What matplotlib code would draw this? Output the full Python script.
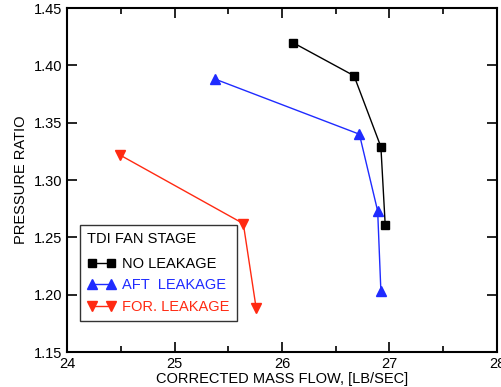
import matplotlib
matplotlib.use("Agg")
import matplotlib.pyplot as plt
from matplotlib.ticker import MultipleLocator

plt.rcParams['font.family'] = ['Liberation Sans', 'DejaVu Sans']

# mass flow [lb/sec] and pressure ratio for each configuration
no_leak_flow = [26.10, 26.67, 26.92, 26.96]
no_leak_pr = [1.420, 1.391, 1.329, 1.261]
aft_leak_flow = [25.38, 26.72, 26.89, 26.92]
aft_leak_pr = [1.388, 1.340, 1.273, 1.203]
for_leak_flow = [24.49, 25.64, 25.76]
for_leak_pr = [1.322, 1.262, 1.188]

blue = '#1f2bff'
red = '#ff2a12'

fig = plt.figure(figsize=(5.02, 3.87), dpi=100)
ax = fig.add_axes([0.1335, 0.0904, 0.8565, 0.8886])

ax.plot(no_leak_flow, no_leak_pr, color='black', lw=1, marker='s', ms=6,
        label='NO LEAKAGE')
ax.plot(aft_leak_flow, aft_leak_pr, color=blue, lw=1, marker='^', ms=7,
        label='AFT  LEAKAGE')
ax.plot(for_leak_flow, for_leak_pr, color=red, lw=1, marker='v', ms=7,
        label='FOR. LEAKAGE')

ax.set_xlim(24, 28)
ax.set_ylim(1.15, 1.45)
ax.xaxis.set_major_locator(MultipleLocator(1))
ax.xaxis.set_minor_locator(MultipleLocator(0.5))
ax.yaxis.set_major_locator(MultipleLocator(0.05))
ax.yaxis.set_major_formatter(plt.FormatStrFormatter('%.2f'))
ax.tick_params(which='both', direction='in', top=True, right=True,
               labelsize=10.5, width=1.2)
ax.tick_params(which='major', length=7)
ax.tick_params(which='minor', length=4)
for s in ax.spines.values():
    s.set_linewidth(1.5)

ax.set_xlabel('CORRECTED MASS FLOW, [LB/SEC]', fontsize=10.5, labelpad=1)
ax.set_ylabel('PRESSURE RATIO', fontsize=10.5, labelpad=4)

leg = ax.legend(loc='lower left', bbox_to_anchor=(0.03, 0.09),
                title='TDI FAN STAGE', numpoints=2, fontsize=10.5,
                title_fontsize=10.5, frameon=True, fancybox=False,
                edgecolor='black', handlelength=1.9, handletextpad=0.5,
                borderpad=0.5, borderaxespad=0, labelspacing=0.5)
leg.get_frame().set_linewidth(1.0)
leg._legend_box.align = 'left'
leg._legend_box.sep = 8
for txt, c in zip(leg.get_texts(), ['black', blue, red]):
    txt.set_color(c)

fig.savefig('out.png', dpi=100)
